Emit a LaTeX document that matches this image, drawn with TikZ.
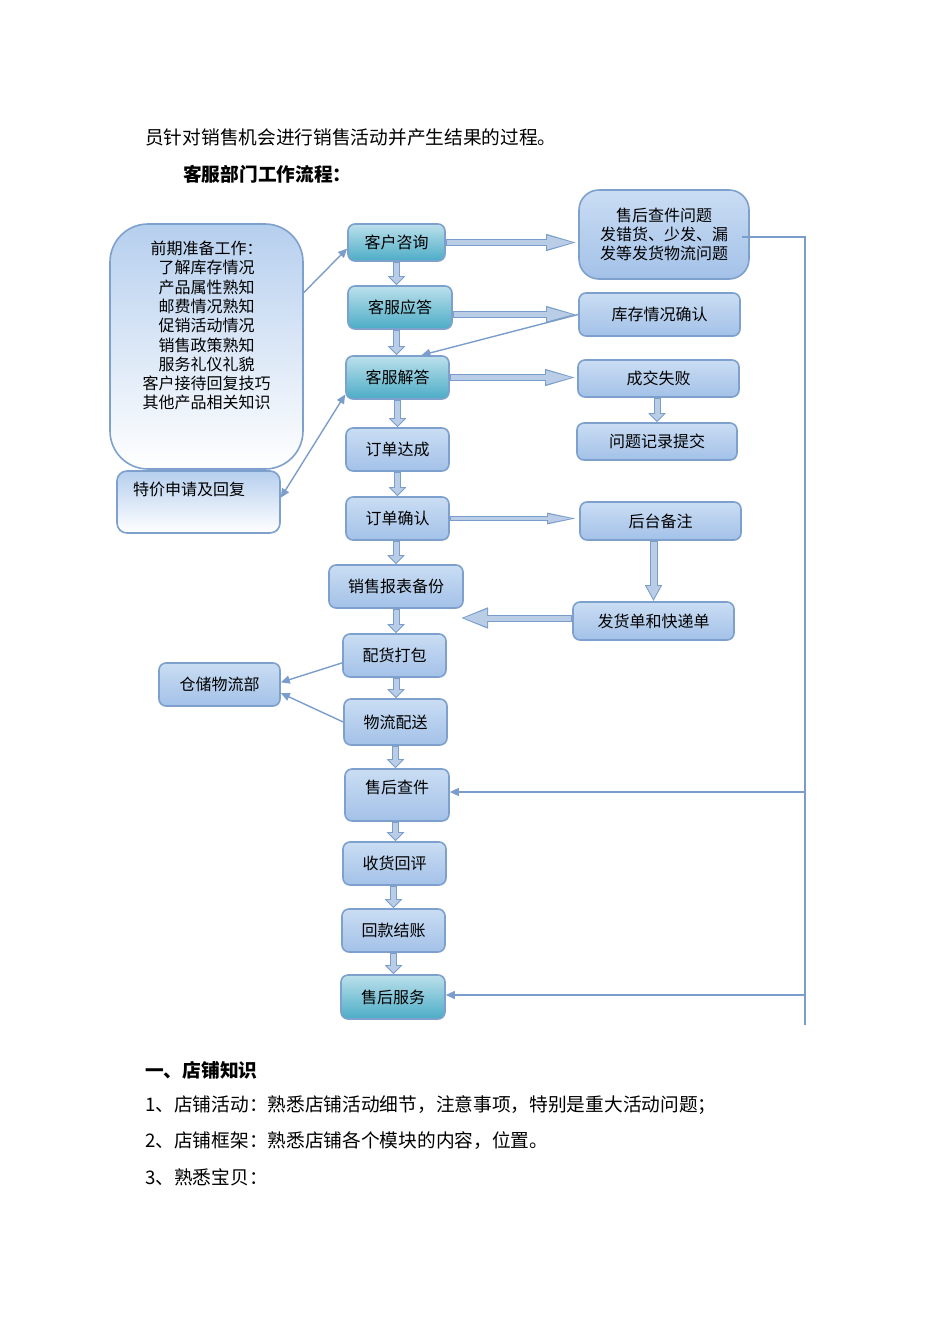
\documentclass[tikz,border=0pt]{standalone}
\usepackage{fontspec}
\setmainfont{Noto Sans CJK SC}
\usetikzlibrary{arrows.meta}

\definecolor{boxline}{HTML}{7EA0CD}
\definecolor{bluetop}{HTML}{CADDF3}
\definecolor{bluebot}{HTML}{A3C1E8}
\definecolor{tealtop}{HTML}{BCE0EB}
\definecolor{tealbot}{HTML}{4BACC6}
\definecolor{preptop}{HTML}{B6CFEE}
\definecolor{arrline}{HTML}{7A9DCB}
\definecolor{arrfill}{HTML}{B9CDE6}

\newcommand\boxfnt{\fontsize{16}{19.3}\selectfont}
\newcommand\txtfnt{\fontsize{18.7}{22}\selectfont}

\tikzset{
  box/.style={draw=boxline, line width=1.6pt, rounded corners=7pt,
    top color=bluetop, bottom color=bluebot, minimum width=103pt,
    minimum height=43pt, inner sep=2pt, font=\boxfnt},
  tealbox/.style={box, top color=tealtop, bottom color=tealbot},
  bodytext/.style={anchor=west, inner sep=0pt, font=\txtfnt},
  link/.style={draw=arrline, line width=1.4pt, -{Triangle[length=9pt,width=8pt]}},
  rail/.style={draw=arrline, line width=1.4pt},
  % hollow block arrows: outline stroke, then lighter core
  downfat/.style={draw=arrline, line width=7pt, -{Triangle[length=9pt,width=17pt]},
    postaction={draw=arrfill, line width=5pt, shorten >=1.5pt, shorten <=1pt,
      -{Triangle[length=6.5pt,width=12.4pt]}}},
  rightfat/.style={draw=arrline, line width=6.5pt, -{Triangle[length=32pt,width=15pt]},
    postaction={draw=arrfill, line width=4.5pt, shorten >=4.4pt, shorten <=1pt,
      -{Triangle[length=26.6pt,width=12.5pt]}}},
  slimfat/.style={draw=arrline, line width=5pt, -{Triangle[length=32pt,width=10pt]},
    postaction={draw=arrfill, line width=3pt, shorten >=6.5pt, shorten <=1pt,
      -{Triangle[length=24.5pt,width=7.7pt]}}},
  tallfat/.style={draw=arrline, line width=8pt, -{Triangle[length=16pt,width=16pt]},
    postaction={draw=arrfill, line width=6pt, shorten >=2.2pt, shorten <=1pt,
      -{Triangle[length=12.8pt,width=12.8pt]}}},
  backfat/.style={draw=arrline, line width=7pt, -{Triangle[length=28pt,width=19pt]},
    postaction={draw=arrfill, line width=5pt, shorten >=3.1pt, shorten <=1pt,
      -{Triangle[length=23.9pt,width=16.2pt]}}},
}

\begin{document}
\begin{tikzpicture}[x=1pt,y=-1pt]
\useasboundingbox (0,0) rectangle (950,1344);

% page text
\node[bodytext] (intro) at (145,137) {员针对销售机会进行销售活动并产生结果的过程。};
\node[bodytext, font=\txtfnt\bfseries] (title) at (183,174) {客服部门工作流程：};
\node[bodytext, font=\txtfnt\bfseries] (sec) at (145,1070) {一、店铺知识};
\node[bodytext] (p1) at (145,1105) {1、店铺活动：熟悉店铺活动细节，注意事项，特别是重大活动问题；};
\node[bodytext] (p2) at (145,1141) {2、店铺框架：熟悉店铺各个模块的内容，位置。};
\node[bodytext] (p3) at (145,1177) {3、熟悉宝贝：};

% left side
\node[box, top color=preptop, bottom color=white, rounded corners=38pt,
  minimum width=193pt, minimum height=245pt, inner sep=0pt] (prep) at (206.5,346.5)
  {\parbox[c][211pt][t]{185pt}{\centering 前期准备工作：\\了解库存情况\\产品属性熟知\\邮费情况熟知\\促销活动情况\\销售政策熟知\\服务礼仪礼貌\\客户接待回复技巧\\其他产品相关知识}};
\node[box, top color=preptop, bottom color=white, rounded corners=10pt,
  minimum width=163pt, minimum height=62pt, inner sep=0pt] (tj) at (198.5,502)
  {\parbox[c][40pt][t]{131pt}{特价申请及回复}};
\node[box, minimum width=121pt] (cc) at (219.5,684.5) {仓储物流部};

% main column
\node[tealbox, minimum width=97pt, minimum height=37pt] (zx) at (396.5,242.5) {客户咨询};
\node[tealbox, minimum width=104pt] (yd) at (400,307.5) {客服应答};
\node[tealbox] (jd) at (397.5,377.5) {客服解答};
\node[box] (dc) at (397.5,449.5) {订单达成};
\node[box] (qr) at (397.5,518.5) {订单确认};
\node[box, minimum width=134pt] (bf) at (396,586.5) {销售报表备份};
\node[box] (db) at (394.5,655.5) {配货打包};
\node[box, minimum height=46pt] (ps) at (395.5,722) {物流配送};
\node[box, minimum width=104pt, minimum height=52pt, text depth=16pt] (cj) at (397,795) {售后查件};
\node[box] (hp) at (394.5,863.5) {收货回评};
\node[box] (jz) at (393.5,930.5) {回款结账};
\node[tealbox, minimum width=104pt, minimum height=44pt] (fw) at (393,997) {售后服务};

% right column
\node[box, rounded corners=20pt, minimum width=170pt, minimum height=89pt, align=center] (wt) at (664,234.5)
  {售后查件问题\\发错货、少发、漏\\发等发货物流问题};
\node[box, minimum width=161pt] (kc) at (659.5,314.5) {库存情况确认};
\node[box, minimum width=161pt, minimum height=37pt] (sb) at (658.5,378.5) {成交失败};
\node[box, minimum width=160pt, minimum height=37pt] (jl) at (657,441.5) {问题记录提交};
\node[box, minimum width=161pt, minimum height=38pt] (bz) at (660.5,521) {后台备注};
\node[box, minimum width=161pt, minimum height=38pt] (kd) at (653.5,621) {发货单和快递单};

% flow down the middle
\draw[downfat] (zx.south) -- (zx.south |- yd.north);
\draw[downfat] (yd.south -| zx.south) -- (zx.south |- jd.north);
\draw[downfat] (jd.south) -- (jd.south |- dc.north);
\draw[downfat] (dc.south) -- (dc.south |- qr.north);
\draw[downfat] (qr.south -| bf.north) -- (bf.north);
\draw[downfat] (bf.south) -- (bf.south |- db.north);
\draw[downfat] (db.south -| bf.south) -- (bf.south |- ps.north);
\draw[downfat] (ps.south) -- (ps.south |- cj.north);
\draw[downfat] (cj.south -| ps.south) -- (ps.south |- hp.north);
\draw[downfat] (hp.south -| jz.north) -- (jz.north);
\draw[downfat] (jz.south) -- (jz.south |- fw.north);

% branches to the right
\draw[rightfat] (zx.east) -- (zx.east -| wt.west);
\draw[rightfat] (yd.east |- kc.west) -- (kc.west);
\draw[rightfat] (jd.east) -- (jd.east -| sb.west);
\draw[slimfat] (qr.east) -- (qr.east -| bz.west);
\draw[downfat] (sb.south -| jl.north) -- (jl.north);
\draw[tallfat] (kd.north |- bz.south) -- (kd.north);
\coordinate (kdend) at (460,618);
\draw[backfat] (kd.west |- kdend) -- (kdend);

% thin links
\draw[link] (prep.29) -- (zx.187);
\draw[link] (kc.west) -- (jd.43);
\draw[link, {Triangle[length=9pt,width=8pt]}-{Triangle[length=9pt,width=8pt]}] (jd.198) -- (tj.3);
\draw[link] (db.188) -- (cc.2);
\draw[link] (ps.west) -- (cc.352);

% after-sales rail
\coordinate (rtop) at (805,237);
\coordinate (rcj) at (805,792);
\coordinate (rfw) at (805,995);
\coordinate (rend) at (805,1025);
\draw[rail] ([xshift=-8pt]wt.east |- rtop) -- (rtop) -- (rend);
\draw[link] (rcj) -- (rcj -| cj.east);
\draw[link] (rfw) -- (rfw -| fw.east);
\end{tikzpicture}
\end{document}
